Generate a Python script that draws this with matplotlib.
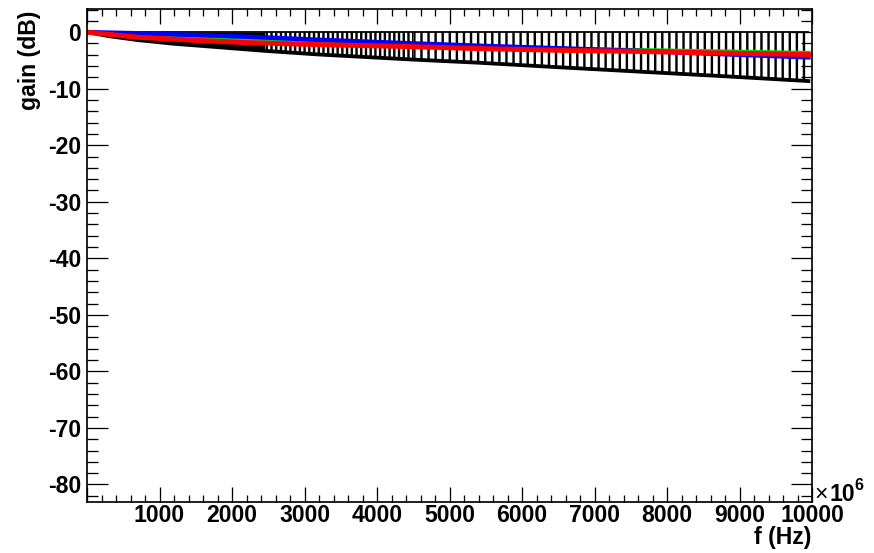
import matplotlib
matplotlib.use('Agg')
import matplotlib.pyplot as plt
from matplotlib.ticker import MultipleLocator

# frequency in units of 10^6 Hz
freq_band = [0, 300, 700, 1200, 1700, 2450, 3200, 4500, 5400, 6500, 7650, 8800, 9950]
band_low = [0, -0.7, -1.4, -2.05, -2.55, -3.3, -3.95, -4.85, -5.4, -6.2, -7.0, -7.8, -8.65]
band_high = [0] * len(freq_band)

freq_line = [0, 700, 1500, 2200, 3200, 4300, 5400, 6500, 7600, 8800, 9950]
gain_green = [0, -0.6, -1.05, -1.35, -1.85, -2.25, -2.65, -2.95, -3.2, -3.45, -3.7]
gain_blue = [0, -0.2, -0.5, -0.8, -1.35, -1.9, -2.4, -2.85, -3.3, -3.9, -4.45]
gain_red = [0, -0.9, -1.45, -1.85, -2.2, -2.5, -2.9, -3.2, -3.4, -3.7, -3.95]

xticks = [0, 1000, 2000, 3000, 4000, 5000, 6000, 7000, 8000, 9000, 10000]
xlabels = ['', '1000', '2000', '3000', '4000', '5000', '6000', '7000', '8000', '9000', '10000']
yticks = [-80, -70, -60, -50, -40, -30, -20, -10, 0]
ylabels = ['-80', '-70', '-60', '-50', '-40', '-30', '-20', '-10', '0']

DPI = 85
W, H = 874, 553
fs = 23 * 72 / DPI  # ROOT text size ~0.04 of pad height


def pt(px):
    return px * 72 / DPI


plt.rcParams['font.family'] = ['Liberation Sans', 'DejaVu Sans']
plt.rcParams['font.weight'] = 'bold'
plt.rcParams['hatch.color'] = 'black'
plt.rcParams['hatch.linewidth'] = pt(2.4)

fig = plt.figure(figsize=((W + 0.01) / DPI, (H + 0.01) / DPI), dpi=DPI)
ax = fig.add_axes([87 / W, 51 / H, 725 / W, 493 / H])

# black band: dense (solid) at low f, vertical bars further on
i1 = freq_band.index(2450)
i2 = freq_band.index(4500)
ax.fill_between(freq_band[:i1 + 1], band_low[:i1 + 1], band_high[:i1 + 1],
                color='black', linewidth=0)
ax.fill_between(freq_band[i1:i2 + 1], band_low[i1:i2 + 1], band_high[i1:i2 + 1],
                facecolor='none', edgecolor='black', hatch='|||', linewidth=0)
ax.fill_between(freq_band[i2:], band_low[i2:], band_high[i2:],
                facecolor='none', edgecolor='black', hatch='||', linewidth=0)
ax.plot(freq_band, band_low, color='black', lw=pt(3.8))
ax.plot(freq_band, band_high, color='black', lw=pt(1.8))

ax.plot(freq_line, gain_green, color='#00dd00', lw=pt(4.5))
ax.plot(freq_line, gain_blue, color='#0000ff', lw=pt(4.5))
ax.plot(freq_line, gain_red, color='#ff0000', lw=pt(5))

ax.set_xlim(0, 10000)
ax.set_ylim(-83.1, 4.1)
ax.set_xticks(xticks, xlabels)
ax.set_yticks(yticks, ylabels)
ax.xaxis.set_minor_locator(MultipleLocator(200))
ax.yaxis.set_minor_locator(MultipleLocator(2))

ax.tick_params(axis='both', which='both', direction='in', top=True, right=True,
               width=pt(1.3), labelsize=fs)
ax.tick_params(axis='x', which='major', length=pt(15), pad=pt(2))
ax.tick_params(axis='x', which='minor', length=pt(7))
ax.tick_params(axis='y', which='major', length=pt(21), pad=pt(6))
ax.tick_params(axis='y', which='minor', length=pt(11))
for s in ax.spines.values():
    s.set_linewidth(pt(1.7))

fig.text(811 / W, 1 - 544 / H, 'f (Hz)', ha='right', va='baseline', fontsize=fs)
fig.text(29 / W, 1 - 11 / H, 'gain (dB)', rotation=90, ha='center', va='top', fontsize=fs)

# x10^6 exponent label
fig.text(814 / W, 1 - 501 / H, '\u00d7', ha='left', va='baseline', fontsize=fs,
         fontweight='normal')
fig.text(829 / W, 1 - 501 / H, '10', ha='left', va='baseline', fontsize=fs)
fig.text(854 / W, 1 - 490 / H, '6', ha='left', va='baseline', fontsize=fs * 0.7)

fig.savefig('out.png', dpi=DPI)
